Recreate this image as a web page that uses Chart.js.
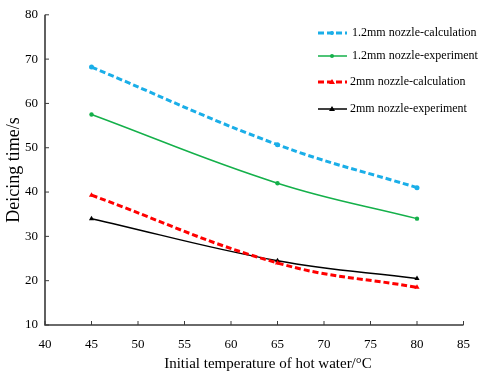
<!DOCTYPE html>
<html><head><meta charset="utf-8">
<script src="https://cdn.jsdelivr.net/npm/chart.js@4/dist/chart.umd.min.js"></script>
<style>html,body{margin:0;padding:0;background:#fff}#w{width:482px;height:373px}</style>
</head><body><div id="w"><canvas id="c"></canvas></div>
<script>
const temps = [45, 65, 80];
const calc12 = [68.2, 50.7, 41.0];
const exp12 = [57.5, 42.0, 34.0];
const calc2 = [39.3, 24.0, 18.5];
const exp2 = [34.0, 24.5, 20.5];
const labels = ['1.2mm nozzle-calculation','1.2mm nozzle-experiment','2mm nozzle-calculation','2mm nozzle-experiment'];
const xTicks = [40,45,50,55,60,65,70,75,80,85];
const yTicks = [10,20,30,40,50,60,70,80];
const xTitle = 'Initial temperature of hot water/°C';

const pts = a => temps.map((t,i)=>({x:t,y:a[i]}));
const serif = "'Liberation Serif','Times New Roman',serif";

const innerTicks = {
  id:'innerTicks',
  afterDraw(chart){
    const ctx = chart.ctx, ca = chart.chartArea;
    const xs = chart.scales.x, ys = chart.scales.y;
    ctx.save();
    ctx.strokeStyle = '#3a3a3a'; ctx.lineWidth = 1.6;
    ctx.beginPath();
    ctx.moveTo(ca.left, ca.top); ctx.lineTo(ca.left, ca.bottom); ctx.lineTo(ca.right, ca.bottom);
    ctx.stroke();
    ctx.lineWidth = 1;
    ctx.beginPath();
    xTicks.forEach(v=>{const p=xs.getPixelForValue(v); ctx.moveTo(p,ca.bottom); ctx.lineTo(p,ca.bottom-4);});
    yTicks.forEach(v=>{const p=ys.getPixelForValue(v); ctx.moveTo(ca.left,p); ctx.lineTo(ca.left+4,p);});
    ctx.stroke();
    // x title
    ctx.fillStyle='#000'; ctx.font="15px "+serif; ctx.textAlign='center'; ctx.textBaseline='middle';
    ctx.fillText(xTitle, 268, 364);
    // legend
    ctx.textAlign='left';
    const rows=[33,56,82,109];
    ctx.font = "12px "+serif;
    chart.data.datasets.forEach((d,i)=>{
      const y=rows[i];
      ctx.save();
      ctx.strokeStyle=d.borderColor; ctx.lineWidth=d.borderWidth; ctx.setLineDash(d.borderDash||[]);
      ctx.beginPath(); ctx.moveTo(318,y); ctx.lineTo(347,y); ctx.stroke();
      ctx.setLineDash([]);
      ctx.fillStyle=d.pointBackgroundColor;
      ctx.beginPath();
      if(d.pointStyle==='triangle'){ctx.moveTo(332,y-3);ctx.lineTo(335,y+2);ctx.lineTo(329,y+2);ctx.closePath();}
      else ctx.arc(332,y,2,0,Math.PI*2);
      ctx.fill();
      ctx.restore();
      ctx.fillText(d.label, i<2?352:350, y);
    });
    ctx.restore();
  }
};

new Chart(document.getElementById('c'),{
  type:'line',
  data:{datasets:[
    {label:labels[0],data:pts(calc12),borderColor:'#1aaee8',backgroundColor:'#1aaee8',pointBackgroundColor:'#1aaee8',pointBorderColor:'#1aaee8',borderWidth:3,borderDash:[6,3],pointStyle:'circle',pointRadius:2.5,pointBorderWidth:0},
    {label:labels[1],data:pts(exp12),borderColor:'#14b04a',backgroundColor:'#14b04a',pointBackgroundColor:'#14b04a',pointBorderColor:'#14b04a',borderWidth:1.5,pointStyle:'circle',pointRadius:2.2,pointBorderWidth:0},
    {label:labels[2],data:pts(calc2),borderColor:'#ff0000',backgroundColor:'#ff0000',pointBackgroundColor:'#ff0000',pointBorderColor:'#ff0000',borderWidth:3,borderDash:[6,3],pointStyle:'triangle',pointRadius:3,pointBorderWidth:0},
    {label:labels[3],data:pts(exp2),borderColor:'#000000',backgroundColor:'#000000',pointBackgroundColor:'#000000',pointBorderColor:'#000000',borderWidth:1.5,pointStyle:'triangle',pointRadius:3,pointBorderWidth:0}
  ]},
  options:{
    responsive:true,maintainAspectRatio:false,animation:false,
    layout:{padding:{top:12,right:17,left:0,bottom:0}},
    elements:{line:{tension:0.4}},
    plugins:{legend:{display:false},tooltip:{enabled:false}},
    scales:{
      x:{type:'linear',min:40,max:85,
        afterBuildTicks:s=>{s.ticks=xTicks.map(v=>({value:v}));},
        afterFit:s=>{s.height=48;},
        grid:{display:false,drawTicks:false},border:{display:false},
        ticks:{color:'#000',padding:12,font:{family:serif,size:13}},
        title:{display:false}
      },
      y:{type:'linear',min:10,max:80,
        afterBuildTicks:s=>{s.ticks=yTicks.map(v=>({value:v}));},
        afterFit:s=>{s.width=45;},
        grid:{display:false,drawTicks:false},border:{display:false},
        ticks:{color:'#000',padding:7,font:{family:serif,size:13}},
        title:{display:true,text:'Deicing time/s',color:'#000',font:{family:serif,size:18},padding:{top:3,bottom:0}}
      }
    }
  },
  plugins:[innerTicks]
});
</script></body></html>
